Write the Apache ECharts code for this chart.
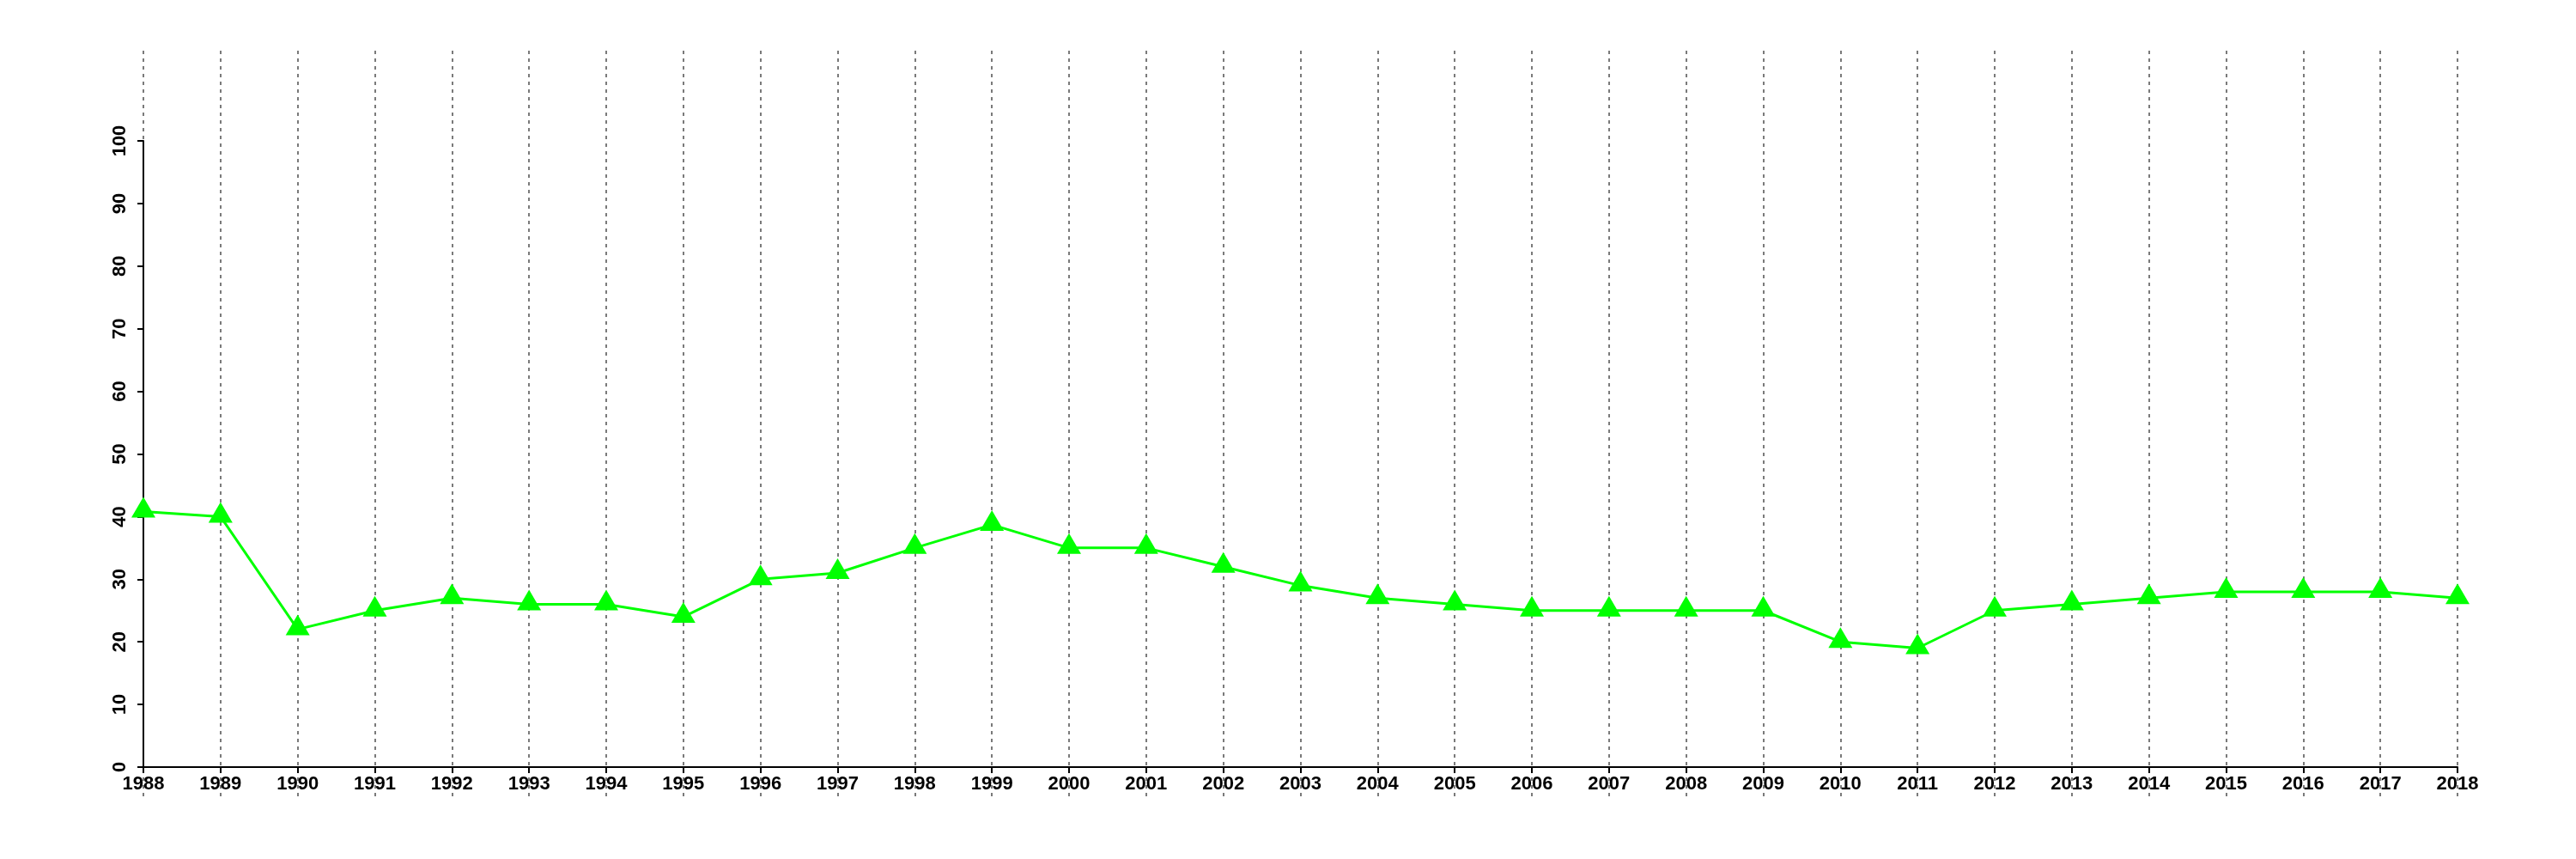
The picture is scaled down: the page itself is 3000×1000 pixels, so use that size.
<!DOCTYPE html>
<html>
<head>
<meta charset="utf-8">
<script src="https://cdn.jsdelivr.net/npm/echarts@6/dist/echarts.min.js"></script>
<style>
html,body{margin:0;padding:0;background:#fff;}
#chart{width:3000px;height:1000px;}
</style>
</head>
<body>
<div id="chart"></div>
<script>
const years = ['1988','1989','1990','1991','1992','1993','1994','1995','1996','1997','1998','1999','2000','2001','2002','2003','2004','2005','2006','2007','2008','2009','2010','2011','2012','2013','2014','2015','2016','2017','2018'];
const values = [40.8,40,22,25,27,26,26,24,30,31,35,38.7,35,35,32,29,27,26,25,25,25,25,20,19,25,26,27,28,28,28,27];
const yTicks = [0,10,20,30,40,50,60,70,80,90,100];

const chart = echarts.init(document.getElementById('chart'));
const font = {fontFamily:'Liberation Sans', fontWeight:'bold', fontSize:22, color:'#000'};
chart.setOption({
  animation:false,
  backgroundColor:'#fff',
  grid:[
    {left:167,right:138,top:164,bottom:107},
    {left:167,right:138,top:59,bottom:73}
  ],
  xAxis:[
    {type:'category',gridIndex:0,data:years,boundaryGap:false,
     axisLine:{lineStyle:{color:'#000',width:2}},
     axisTick:{show:true,length:7,inside:false,alignWithLabel:true,interval:0,lineStyle:{color:'#000',width:2}},
     axisLabel:Object.assign({interval:0,margin:9},font),
     splitLine:{show:false}, z:3},
    {type:'category',gridIndex:1,data:years,boundaryGap:false,
     axisLine:{show:false},axisTick:{show:false},axisLabel:{show:false},
     splitLine:{show:true,interval:0,lineStyle:{color:'#7a7a7a',width:2,type:[4,5]}}, z:0}
  ],
  yAxis:[
    {type:'value',gridIndex:0,min:yTicks[0],max:yTicks[yTicks.length-1],interval:10,
     axisLine:{show:true,lineStyle:{color:'#000',width:2}},
     axisTick:{show:true,length:7,lineStyle:{color:'#000',width:2}},
     axisLabel:Object.assign({rotate:90,margin:16,verticalAlign:'bottom'},font),
     splitLine:{show:false}, z:3},
    {type:'value',gridIndex:1,min:0,max:1,show:false,splitLine:{show:false}}
  ],
  series:[{
    type:'line',xAxisIndex:0,yAxisIndex:0,data:values,
    lineStyle:{color:'#00ff00',width:3},
    itemStyle:{color:'#00ff00'},
    symbol:'triangle',symbolSize:[28,24],symbolOffset:[0,-5],
    z:5
  }]
});
</script>
</body>
</html>
